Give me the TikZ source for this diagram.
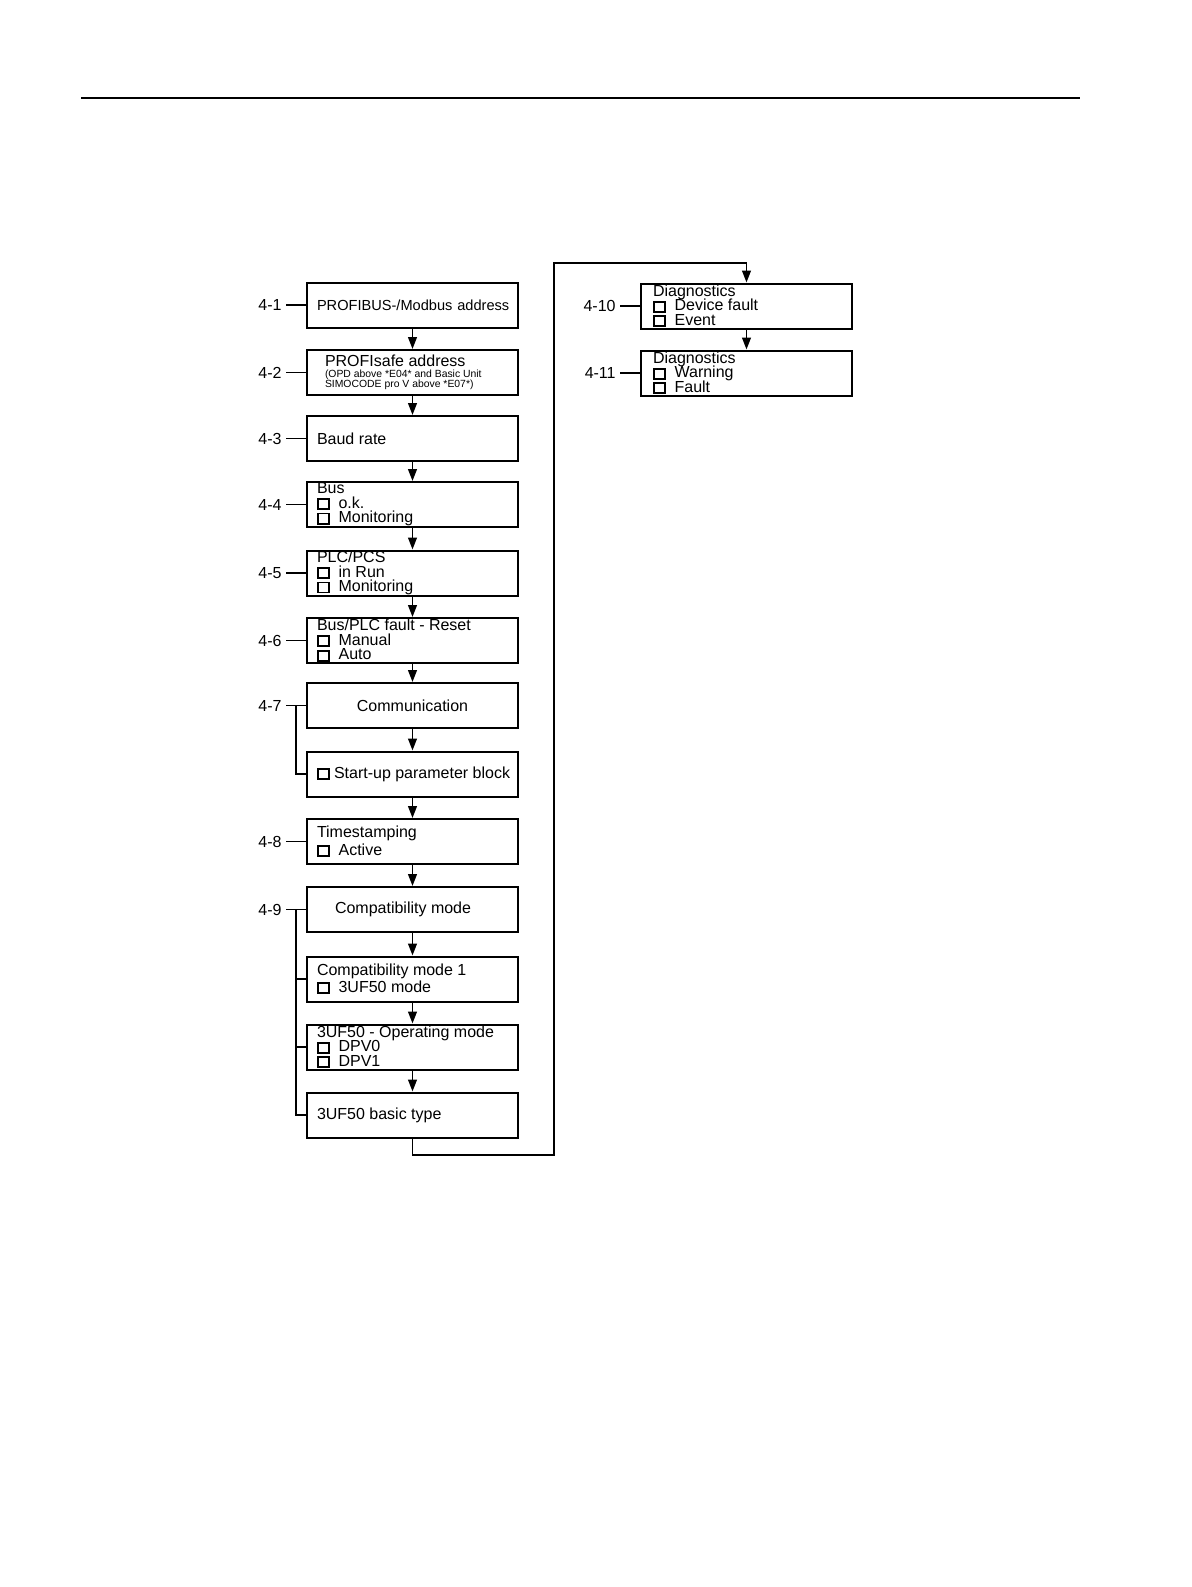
\documentclass[tikz,border=0pt]{standalone}
\usepackage{fontspec}
\setmainfont{Liberation Sans}
\usetikzlibrary{arrows.meta}

% Kontrollkaestchen, optional mit Abstand zum Text
\newcommand\ckbox[1][4.3pt]{{\setlength\fboxsep{0pt}\setlength\fboxrule{0.85pt}%
  \fbox{\rule{0pt}{4.2pt}\rule{4.8pt}{0pt}}}\hspace{#1}}

\begin{document}
\begin{tikzpicture}[x=0.5pt,y=-0.5pt,
  menubox/.style={draw, line width=1pt, minimum width=105.5pt, minimum height=22.5pt,
    inner xsep=5pt, inner ysep=0pt,
    font={\fontsize{8}{7.25}\selectfont\lineskiplimit=-5pt}},
  leftbox/.style={menubox, align=flush left, text width=95.5pt},
  midbox/.style={menubox, align=center, text width=95.5pt},
  diagbox/.style={menubox, align=flush left, inner xsep=6pt, text width=93.5pt},
  nummer/.style={anchor=east, inner sep=2pt, font=\fontsize{8}{9.6}\selectfont},
  flow/.style={-{Triangle[length=6pt,width=4.4pt]}, line width=0.9pt},
  tie/.style={line width=0.9pt}]

\useasboundingbox (0,0) rectangle (1191,1587);

% Spaltenmitten
\def\lx{412.5}
\def\rx{746.5}

% Kopflinie
\draw[line width=0.8pt] (81,98) -- (1080,98);

% ------------------- Linke Spalte -------------------
\node[midbox, font=\fontsize{7.3}{8}\selectfont] (addr) at (\lx,305) {\mbox{PROFIBUS-/Modbus address}};
\node[leftbox, inner xsep=9pt, text width=87.5pt] (safe) at (\lx,372.5)
  {PROFIsafe address\\[0.75pt]{\fontsize{5.2}{5}\selectfont\mbox{(OPD above *E04* and Basic Unit}\\[-2.25pt]\mbox{SIMOCODE pro V above *E07*)}}};
\node[leftbox] (baud) at (\lx,438.5) {Baud rate};
\node[leftbox] (bus) at (\lx,504.5) {Bus\\\ckbox o.k.\\\ckbox Monitoring};
\node[leftbox] (plc) at (\lx,573) {PLC/PCS\\\ckbox in Run\\\ckbox Monitoring};
\node[leftbox] (reset) at (\lx,640.5) {Bus/PLC fault - Reset\\\ckbox Manual\\\ckbox Auto};
\node[midbox] (comm) at (\lx,705.5) {Communication};
\node[leftbox] (startup) at (\lx,774) {\mbox{\ckbox[2pt]Start-up parameter block}};
\node[leftbox, font={\fontsize{8}{8.7}\selectfont}] (stamp) at (\lx,841.5) {Timestamping\\\ckbox Active};
\node[leftbox] (compat) at (\lx,909.5) {\hspace*{9pt}Compatibility mode};
\node[leftbox, font={\fontsize{8}{8.5}\selectfont}] (cmone) at (\lx,979) {Compatibility mode 1\\\ckbox 3UF50 mode};
\node[leftbox] (opmode) at (\lx,1047) {3UF50 - Operating mode\\\ckbox DPV0\\\ckbox DPV1};
\node[leftbox] (basic) at (\lx,1115) {3UF50 basic type};

% ------------------- Rechte Spalte -------------------
\node[diagbox] (diaga) at (\rx,306) {Diagnostics\\\ckbox Device fault\\\ckbox Event};
\node[diagbox] (diagb) at (\rx,373) {Diagnostics\\\ckbox Warning\\\ckbox Fault};

% Nummern
\node[nummer] (n1) at (286,305) {4-1};
\node[nummer] (n2) at (286,372.5) {4-2};
\node[nummer] (n3) at (286,438.5) {4-3};
\node[nummer] (n4) at (286,504.5) {4-4};
\node[nummer] (n5) at (286,573) {4-5};
\node[nummer] (n6) at (286,640.5) {4-6};
\node[nummer] (n7) at (286,705.5) {4-7};
\node[nummer] (n8) at (286,841.5) {4-8};
\node[nummer] (n9) at (286,909.5) {4-9};
\node[nummer] (n10) at (620,306) {4-10};
\node[nummer] (n11) at (620,373) {4-11};

\foreach \n/\b in {n1/addr, n2/safe, n3/baud, n4/bus, n5/plc, n6/reset,
  n7/comm, n8/stamp, n9/compat, n10/diaga, n11/diagb}
  \draw[tie] (\n.east) -- (\b.west);

% Klammern 4-7 und 4-9
\coordinate (k7) at (296,705.5);
\coordinate (k9) at (296,909.5);
\draw[tie] (k7) |- (startup.west);
\draw[tie] (k9) |- (basic.west);
\draw[tie] (k9 |- cmone.west) -- (cmone.west);
\draw[tie] (k9 |- opmode.west) -- (opmode.west);

% Pfeile
\foreach \a/\b in {addr/safe, safe/baud, baud/bus, bus/plc, plc/reset, reset/comm,
  comm/startup, startup/stamp, stamp/compat, compat/cmone, cmone/opmode,
  opmode/basic, diaga/diagb}
  \draw[flow] (\a.south) -- (\b.north);

% Rueckfuehrung in die rechte Spalte
\coordinate (u1) at (554,1155);
\coordinate (u2) at (554,263);
\draw[flow] (basic.south) |- (u1) -- (u2) -| (diaga.north);

\end{tikzpicture}
\end{document}
